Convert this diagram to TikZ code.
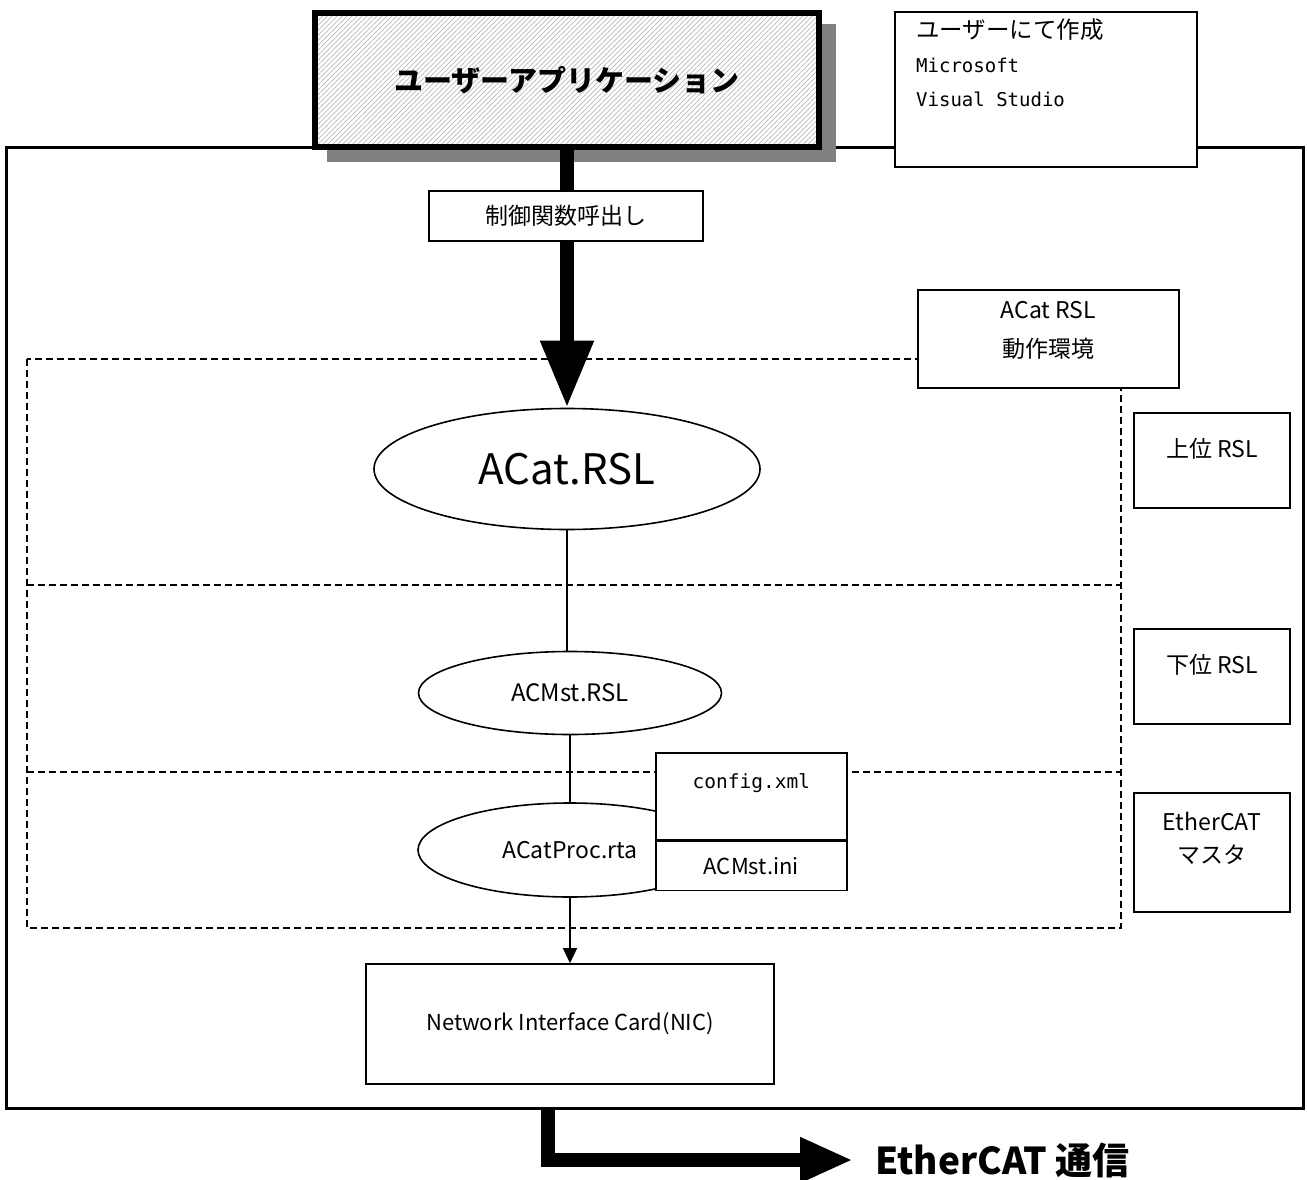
\documentclass[tikz,border=0pt]{standalone}
\usepackage{fontspec}
\setmainfont{Noto Sans CJK JP}
\setmonofont{DejaVu Sans Mono}
\usetikzlibrary{shapes.geometric,patterns.meta,arrows.meta}

\begin{document}
\begin{tikzpicture}[x=1pt, y=-1pt,
    box/.style={draw, line width=1.6pt, fill=white, inner sep=0pt},
    oval/.style={draw, ellipse, line width=1.6pt, fill=white, inner sep=0pt},
    zone/.style={draw, line width=1.1pt, dash pattern=on 7pt off 4pt},
    txt/.style={font=\fontsize{23}{27}\selectfont},
    link/.style={line width=1.4pt}]
\useasboundingbox (0,0) rectangle (1307,1180);

\draw[line width=3pt] (6,148) rectangle (1303,1108);
\draw[zone] (27,359) rectangle (1121,928);
\foreach \zline in {585, 772}
{
    \draw[zone] (27,\zline) -- (1121,\zline);
}

% user side
\fill[gray] (327,24) rectangle (836,162);
\node[draw, line width=6pt, preaction={fill=white},
      pattern={Lines[angle=45,distance=3.5pt,line width=0.7pt]}, pattern color=gray!55,
      minimum width=504pt, minimum height=134pt,
      font=\fontsize{29}{34}\selectfont\bfseries] (app) at (567,80) {ユーザーアプリケーション};
\node[box, minimum width=302pt, minimum height=155pt] (made) at (1046,89.5) {};
\node[anchor=north west, align=left, inner sep=0pt, font=\fontsize{23.5}{34}\selectfont]
    (madetxt) at (916,19) {ユーザーにて作成\\{\ttfamily\fontsize{19}{34}\selectfont Microsoft}\\{\ttfamily\fontsize{19}{34}\selectfont Visual Studio}};

\node[oval, minimum width=386pt, minimum height=121pt, font=\fontsize{42}{50}\selectfont] (rsl) at (567,469) {ACat.RSL};
\draw[line width=14pt, -{Triangle[width=50pt,length=67pt]}] (app.south) -- (rsl.north);
\node[box, line width=1.2pt, minimum width=274pt, minimum height=50pt, txt] (call) at (566,216) {制御関数呼出し};

% RSL layers
\node[oval, minimum width=303pt, minimum height=83pt, font=\fontsize{24}{28}\selectfont] (acm) at (570,693) {ACMst.RSL};
\node[oval, minimum width=304pt, minimum height=94pt, txt] (proc) at (570,850) {ACatProc.rta};
\draw[link] (rsl.south) -- (rsl.south |- acm.north);
\draw[link] (acm.south) -- (proc.north);

\node[box, minimum width=408pt, minimum height=120pt, font=\fontsize{22}{26}\selectfont] (nic) at (570,1024) {Network Interface Card(NIC)};
\draw[link, -{Triangle[width=14pt,length=15pt]}] (proc.south) -- (nic.north);

\node[box, anchor=north west, minimum width=191pt, minimum height=87pt,
      font=\ttfamily\fontsize{19.5}{24}\selectfont, text height=15pt, text depth=31pt] (cfg) at (655,752) {config.xml};
\node[box, anchor=north, minimum width=191pt, minimum height=49pt, font=\fontsize{22}{26}\selectfont] (ini) at (cfg.south) {ACMst.ini};

% right column
\node[box, minimum width=261pt, minimum height=98pt] (env) at (1048.5,339) {};
\node[align=center, font=\fontsize{23}{39}\selectfont] (envtxt) at ([yshift=9pt]env.center) {ACat RSL\\動作環境};
\foreach \name/\ypos/\btext in {upper/460.5/上位 RSL, lower/676.5/下位 RSL}
{
    \node[box, minimum width=156pt, minimum height=95pt, txt, text height=18pt, text depth=24pt] (\name) at (1212,\ypos) {\btext};
}
\node[box, minimum width=156pt, minimum height=119pt] (master) at (1212,852.5) {};
\node[align=center, font=\fontsize{23}{33}\selectfont] (mastertxt) at ([yshift=14pt]master.center) {EtherCAT\\マスタ};

% EtherCAT out
\node[anchor=west, inner sep=0pt, font=\fontsize{37}{44}\selectfont\bfseries] (ecat) at (875,1160) {EtherCAT 通信};
\coordinate (ecatfoot) at (548,1110);
\draw[line width=14pt, line join=miter, -{Triangle[width=42pt,length=53pt]}] (ecatfoot) |- ([xshift=-22pt]ecat.west);
\end{tikzpicture}
\end{document}
